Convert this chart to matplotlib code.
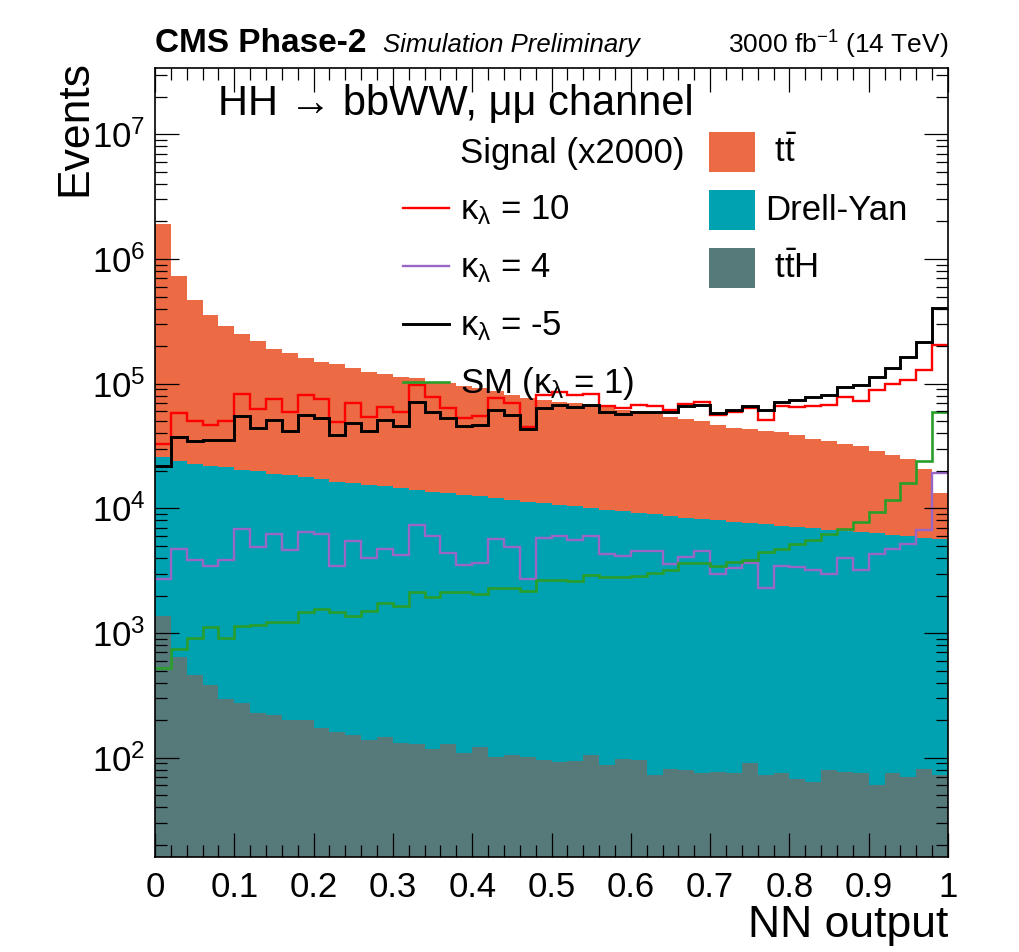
import matplotlib
matplotlib.use('Agg')  # no display

import matplotlib.pyplot as plt
import matplotlib.ticker as mticker
from matplotlib.patches import Rectangle
from matplotlib.lines import Line2D
import numpy as np

plt.rcParams['font.family'] = ['Liberation Sans', 'DejaVu Sans']
plt.rcParams['mathtext.fontset'] = 'custom'
plt.rcParams['mathtext.rm'] = 'Liberation Sans'
plt.rcParams['mathtext.it'] = 'Liberation Sans'
plt.rcParams['mathtext.bf'] = 'Liberation Sans:bold'

# 50 bins of NN output, 0..1
bin_edges = np.linspace(0, 1, 51)

# backgrounds (per process, stacked ttH -> DY -> tt)
tth = [1380, 637, 460, 380, 296, 277, 227, 221, 202, 202,
       172, 160, 151, 139, 147, 131, 128, 117, 128, 109,
       123, 102, 106, 101, 96, 93, 95, 105, 87, 98,
       96, 73, 82, 80, 75, 77, 76, 90, 73, 75,
       68, 64, 80, 77, 75, 60, 75, 70, 82, 73]
dy = [24200, 23200, 22400, 21600, 21100, 20100, 19600, 18800, 18200, 17500,
      17000, 16200, 15800, 15300, 14900, 14300, 13900, 13500, 13100, 12700,
      12400, 11900, 11600, 11200, 10900, 10600, 10300, 10000, 9660, 9340,
      9120, 8930, 8640, 8320, 8130, 7920, 7770, 7570, 7360, 7180,
      7040, 6840, 6650, 6520, 6380, 6230, 6070, 5880, 5700, 5610]
ttbar = [1894000, 700200, 448100, 333000, 266600, 227600, 199200, 172000, 156600, 143300,
         132800, 127600, 117000, 109600, 104000, 99600, 96000, 90400, 87800, 83350,
         79700, 75300, 69800, 65400, 63300, 61200, 59400, 57600, 55150, 52360,
         51080, 49100, 45780, 43600, 41600, 38800, 36450, 35540, 33970, 33350,
         31590, 29300, 27670, 26400, 24950, 22810, 20760, 19050, 14920, 7720]

# signals (x2000)
sig_kl10 = [32800, 57700, 49800, 46200, 49800, 83000, 62500, 75600, 59200, 80400,
            75600, 49200, 70300, 54300, 65300, 59200, 98000, 78900, 63700, 53000,
            55300, 77400, 69800, 44900, 81500, 85700, 81500, 82600, 66500, 63700,
            67700, 66500, 61000, 69000, 71900, 55600, 59200, 63700, 51400, 65600,
            64400, 65600, 66900, 78900, 72900, 89300, 99800, 107000, 129000, 203000]
sig_kl4 = [2720, 4680, 3870, 3420, 3870, 6860, 4900, 6220, 4630, 6460,
           6220, 3420, 5470, 3970, 4760, 4250, 7380, 6030, 4390, 3510,
           3640, 5700, 4940, 2710, 5810, 5950, 5600, 5950, 4330, 4140,
           4590, 4510, 3590, 4110, 4590, 3000, 3320, 3680, 2300, 3440,
           3360, 3220, 3000, 4020, 3220, 4330, 4680, 5180, 6730, 19200]
sig_klm5 = [21700, 37500, 34400, 35300, 35300, 54600, 43800, 51100, 41900, 56000,
            53000, 38900, 48300, 41700, 51100, 45400, 71600, 59800, 53000, 45900,
            46800, 61800, 56300, 43200, 63700, 66900, 64400, 67700, 58800, 57400,
            58800, 59800, 59800, 65600, 67700, 58100, 61800, 65600, 61800, 71100,
            74300, 78100, 80900, 93900, 96900, 114000, 134000, 165000, 214000, 404000]
sig_sm = [524, 744, 906, 1110, 916, 1130, 1170, 1220, 1220, 1470,
          1560, 1470, 1380, 1490, 1740, 1660, 2130, 1930, 2130, 2130,
          2070, 2280, 2290, 2160, 2670, 2640, 2610, 2940, 2840, 2840,
          2880, 3030, 3220, 3640, 3640, 3470, 3710, 3870, 4430, 4680,
          5200, 5530, 6180, 6860, 7810, 9340, 11700, 16100, 24200, 59200]

x_ticks = [0, 0.1, 0.2, 0.3, 0.4, 0.5, 0.6, 0.7, 0.8, 0.9, 1]
x_labels = ['0', '0.1', '0.2', '0.3', '0.4', '0.5', '0.6', '0.7', '0.8', '0.9', '1']
y_ticks = [1e2, 1e3, 1e4, 1e5, 1e6, 1e7]

c_tt = '#ec6a44'
c_dy = '#00a2b2'
c_tth = '#56797a'
c_red = '#ff0000'
c_purple = '#9966c6'
c_black = '#000000'
c_green = '#2a9e2a'

W, H = 1019, 952
fig = plt.figure(figsize=(W / 100, H / 100), dpi=100)


def fx(x):
    return x / W


def fy(y):
    return 1 - y / H


ax = fig.add_axes([fx(155), fy(857), fx(948) - fx(155), fy(68) - fy(857)])

ymin, ymax = 16.0, 3.4e7
lay0 = np.array(tth, float)
lay1 = lay0 + np.array(dy, float)
lay2 = lay1 + np.array(ttbar, float)
ax.stairs(lay0, bin_edges, baseline=ymin, fill=True, color=c_tth, lw=0)
ax.stairs(lay1, bin_edges, baseline=lay0, fill=True, color=c_dy, lw=0)
ax.stairs(lay2, bin_edges, baseline=lay1, fill=True, color=c_tt, lw=0)

ax.stairs(sig_kl4, bin_edges, baseline=None, color=c_purple, lw=1.7)
ax.stairs(sig_sm, bin_edges, baseline=None, color=c_green, lw=1.9)
ax.stairs(sig_kl10, bin_edges, baseline=None, color=c_red, lw=1.7)
ax.stairs(sig_klm5, bin_edges, baseline=None, color=c_black, lw=2.1)

ax.set_xlim(0, 1)
ax.set_yscale('log')
ax.set_ylim(ymin, ymax)

ax.set_xticks(x_ticks, x_labels)
ax.xaxis.set_minor_locator(mticker.FixedLocator(
    [v for v in np.arange(0.02, 1.0, 0.02) if abs(v * 10 - round(v * 10)) > 1e-6]))
ax.set_yticks(y_ticks, [r'$10^{%d}$' % int(np.log10(v)) for v in y_ticks])
y_minor = [m * 10.0 ** e for e in range(1, 8) for m in range(2, 10)]
ax.yaxis.set_minor_locator(mticker.FixedLocator([v for v in y_minor if ymin < v < ymax]))
ax.yaxis.set_minor_formatter(mticker.NullFormatter())
ax.xaxis.set_minor_formatter(mticker.NullFormatter())

ax.tick_params(which='both', direction='in', top=True, right=True, width=0.9, colors='black')
ax.tick_params(which='major', length=17)
ax.tick_params(which='minor', length=8.5)
ax.tick_params(axis='x', which='major', labelsize=25, pad=10)
ax.tick_params(axis='y', which='major', labelsize=25, pad=7)
for s in ax.spines.values():
    s.set_linewidth(1.2)

# header
fig.text(fx(155), fy(43), 'CMS Phase-2', fontsize=24, fontweight='bold', va='center', ha='left')
fig.text(fx(383), fy(45), 'Simulation Preliminary', fontsize=18.5, style='italic', va='center', ha='left')
fig.text(fx(948), fy(45), '3000 fb$^{-1}$ (14 TeV)', fontsize=19, va='center', ha='right')

# axis titles
fig.text(fx(75), fy(60), 'Events', fontsize=32, rotation=90, va='top', ha='center')
fig.text(fx(948), fy(925), 'NN output', fontsize=32, va='center', ha='right')

# channel label
fig.text(fx(218), fy(104), 'HH \u2192 bbWW, \u03bc\u03bc channel', fontsize=30, va='center', ha='left')

# legend, left column: signals
fs_leg = 25
fig.text(fx(460), fy(153), 'Signal (x2000)', fontsize=fs_leg, va='center', ha='left')
sig_entries = [(c_red, 1.7, r'$\kappa_{\lambda}$ = 10', 210),
               (c_purple, 1.7, r'$\kappa_{\lambda}$ = 4', 268),
               (c_black, 2.1, r'$\kappa_{\lambda}$ = -5', 326),
               (c_green, 1.9, r'SM ($\kappa_{\lambda}$ = 1)', 384)]
for col, lw, lab, yy in sig_entries:
    fig.add_artist(Line2D([fx(403), fx(449)], [fy(yy - 2), fy(yy - 2)], color=col, lw=lw))
    fig.text(fx(460), fy(yy), lab, fontsize=fs_leg, va='center', ha='left')

# legend, right column: backgrounds
bkg_entries = [(c_tt, r' t$\bar{\mathrm{t}}$', 152),
               (c_dy, 'Drell-Yan', 210),
               (c_tth, r' t$\bar{\mathrm{t}}$H', 268)]
for col, lab, yy in bkg_entries:
    fig.add_artist(Rectangle((fx(709), fy(yy + 20)), fx(46), 40 / H,
                             color=col, lw=0))
    fig.text(fx(765), fy(yy), lab, fontsize=fs_leg, va='center', ha='left')

fig.savefig('out.png', dpi=100)
